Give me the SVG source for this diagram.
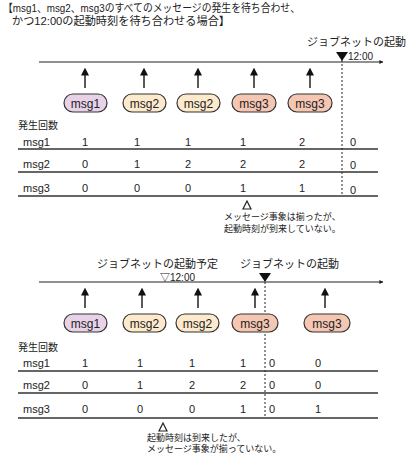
<svg xmlns="http://www.w3.org/2000/svg" width="407" height="453" viewBox="0 0 407 453">
<defs>
<style>
text{font-family:"Liberation Sans","Noto Sans CJK JP",sans-serif;fill:#222;}
.t{font-size:11px;}
.v{font-size:11px;text-anchor:middle;}
.lb{font-size:11px;}
.s{font-size:9px;}
.pt{font-size:12px;text-anchor:middle;}
.ln{stroke:#222;stroke-width:1.2;fill:none;}
.rl{stroke:#333;stroke-width:1.3;}
.ds{stroke:#222;stroke-width:1;stroke-dasharray:2,2;}
.ar{stroke:#222;stroke-width:1.5;marker-end:url(#ah);}
.p1{fill:#e8d2e8;stroke:#333;stroke-width:1.2;}
.p2{fill:#fde9cb;stroke:#333;stroke-width:1.2;}
.p3{fill:#f5c6b2;stroke:#333;stroke-width:1.2;}
</style>
<marker id="ah" viewBox="0 0 10 10" refX="2" refY="5" markerWidth="8" markerHeight="8" orient="auto" markerUnits="userSpaceOnUse">
<path d="M0,0 L10,5 L0,10 z" fill="#111"/>
</marker>
<marker id="ah2" viewBox="0 0 10 10" refX="9" refY="5" markerWidth="4" markerHeight="4" orient="auto" markerUnits="userSpaceOnUse">
<path d="M0,0 L10,5 L0,10 z" fill="#222"/>
</marker>
</defs>
<rect width="407" height="453" fill="#fff"/>
<g id="title">
<text class="t" x="3" y="12" textLength="297" lengthAdjust="spacingAndGlyphs">【msg1、msg2、msg3のすべてのメッセージの発生を待ち合わせ、</text>
<text class="t" x="12" y="25" textLength="218" lengthAdjust="spacingAndGlyphs">かつ12:00の起動時刻を待ち合わせる場合】</text>
</g>
<g id="connectors">
<line class="ln" x1="39" y1="62" x2="383" y2="62" marker-end="url(#ah2)"/>
<line class="ar" x1="85" y1="88" x2="85" y2="74"/>
<line class="ar" x1="144" y1="88" x2="144" y2="74"/>
<line class="ar" x1="198" y1="88" x2="198" y2="74"/>
<line class="ar" x1="254" y1="88" x2="254" y2="74"/>
<line class="ar" x1="310" y1="88" x2="310" y2="74"/>
<line class="ds" x1="342" y1="60" x2="342" y2="196"/>
<line class="rl" x1="18" y1="149" x2="378" y2="149"/>
<line class="rl" x1="18" y1="172" x2="378" y2="172"/>
<line class="rl" x1="18" y1="196" x2="378" y2="196"/>
<line class="ln" x1="39" y1="282" x2="383" y2="282" marker-end="url(#ah2)"/>
<line class="ar" x1="85" y1="308" x2="85" y2="294"/>
<line class="ar" x1="142" y1="308" x2="142" y2="294"/>
<line class="ar" x1="198" y1="308" x2="198" y2="294"/>
<line class="ar" x1="255" y1="308" x2="255" y2="294"/>
<line class="ar" x1="325" y1="308" x2="325" y2="294"/>
<line class="ds" x1="265" y1="278" x2="265" y2="418"/>
<line class="rl" x1="18" y1="371" x2="378" y2="371"/>
<line class="rl" x1="18" y1="393" x2="378" y2="393"/>
<line class="rl" x1="18" y1="418" x2="378" y2="418"/>
</g>
<g id="top-start">
<text class="lb" x="406" y="46" text-anchor="end">ジョブネットの起動</text>
<polygon points="336,52 348,52 342,61" fill="#111"/>
<text class="t" x="348" y="60" style="font-size:10px">12:00</text>
</g>
<g id="top-m1"><rect class="p1" x="64" y="94" width="43" height="18" rx="9"/><text class="pt" x="85.5" y="107.5">msg1</text></g>
<g id="top-m2a"><rect class="p2" x="123" y="94" width="43" height="18" rx="9"/><text class="pt" x="144.5" y="107.5">msg2</text></g>
<g id="top-m2b"><rect class="p2" x="177" y="94" width="43" height="18" rx="9"/><text class="pt" x="198.5" y="107.5">msg2</text></g>
<g id="top-m3a"><rect class="p3" x="232" y="94" width="44" height="18" rx="9"/><text class="pt" x="254" y="107.5">msg3</text></g>
<g id="top-m3b"><rect class="p3" x="288" y="94" width="44" height="18" rx="9"/><text class="pt" x="310" y="107.5">msg3</text></g>
<g id="top-table">
<text class="lb" x="18" y="129" style="font-size:10px">発生回数</text>
<text class="lb" x="23" y="146">msg1</text>
<text class="lb" x="23" y="168">msg2</text>
<text class="lb" x="23" y="192">msg3</text>
<text class="v" x="85" y="146">1</text><text class="v" x="137" y="146">1</text><text class="v" x="188" y="146">1</text><text class="v" x="243" y="146">1</text><text class="v" x="302" y="146">2</text><text class="v" x="353" y="146">0</text>
<text class="v" x="85" y="168">0</text><text class="v" x="137" y="168">1</text><text class="v" x="188" y="168">2</text><text class="v" x="243" y="168">2</text><text class="v" x="302" y="168">2</text><text class="v" x="353" y="169">0</text>
<text class="v" x="85" y="192">0</text><text class="v" x="137" y="192">0</text><text class="v" x="188" y="192">0</text><text class="v" x="243" y="192">1</text><text class="v" x="302" y="192">1</text><text class="v" x="353" y="194">0</text>
</g>
<g id="top-note">
<polygon points="247,201 243,209 251,209" fill="none" stroke="#222" stroke-width="1.2"/>
<text class="s" x="224" y="220">メッセージ事象は揃ったが、</text>
<text class="s" x="224" y="232">起動時刻が到来していない。</text>
</g>
<g id="bot-labels">
<text class="lb" x="97" y="268">ジョブネットの起動予定</text>
<text class="t" x="160" y="281" style="font-size:10px">▽12:00</text>
<text class="lb" x="240" y="268">ジョブネットの起動</text>
<polygon points="259,273 271,273 265,282" fill="#111"/>
</g>
<g id="bot-m1"><rect class="p1" x="64" y="314" width="43" height="18" rx="9"/><text class="pt" x="85.5" y="327.5">msg1</text></g>
<g id="bot-m2a"><rect class="p2" x="123" y="314" width="43" height="18" rx="9"/><text class="pt" x="144.5" y="327.5">msg2</text></g>
<g id="bot-m2b"><rect class="p2" x="176" y="314" width="43" height="18" rx="9"/><text class="pt" x="197.5" y="327.5">msg2</text></g>
<g id="bot-m3a"><rect class="p3" x="232" y="314" width="46" height="18" rx="9"/><text class="pt" x="255" y="327.5">msg3</text></g>
<g id="bot-m3b"><rect class="p3" x="304" y="314" width="46" height="18" rx="9"/><text class="pt" x="327" y="327.5">msg3</text></g>
<g id="bot-table">
<text class="lb" x="18" y="351" style="font-size:10px">発生回数</text>
<text class="lb" x="23" y="367">msg1</text>
<text class="lb" x="23" y="389">msg2</text>
<text class="lb" x="23" y="413">msg3</text>
<text class="v" x="85" y="367">1</text><text class="v" x="140" y="367">1</text><text class="v" x="192" y="367">1</text><text class="v" x="243" y="367">1</text><text class="v" x="272" y="367">0</text><text class="v" x="318" y="367">0</text>
<text class="v" x="85" y="389">0</text><text class="v" x="140" y="389">1</text><text class="v" x="192" y="389">2</text><text class="v" x="243" y="389">2</text><text class="v" x="272" y="389">0</text><text class="v" x="318" y="389">0</text>
<text class="v" x="85" y="413">0</text><text class="v" x="140" y="413">0</text><text class="v" x="192" y="413">0</text><text class="v" x="243" y="413">1</text><text class="v" x="272" y="413">0</text><text class="v" x="318" y="413">1</text>
</g>
<g id="bot-note">
<polygon points="163,423 159,431 167,431" fill="none" stroke="#222" stroke-width="1.2"/>
<text class="s" x="147" y="441">起動時刻は到来したが、</text>
<text class="s" x="147" y="452">メッセージ事象が揃っていない。</text>
</g>
</svg>
